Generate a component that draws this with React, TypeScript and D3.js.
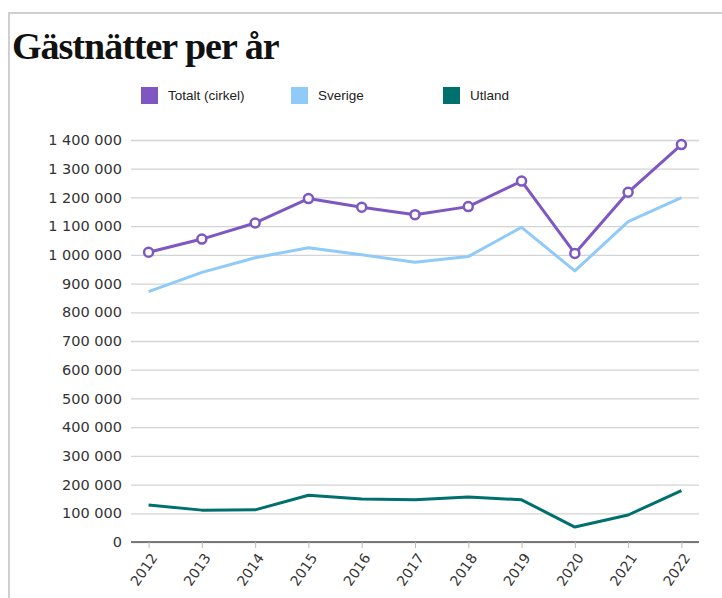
import React, { useEffect, useRef } from 'react'
import * as d3 from 'd3'

const years = ['2012', '2013', '2014', '2015', '2016', '2017', '2018', '2019', '2020', '2021', '2022']
const totalt = [1009000, 1055000, 1111000, 1196000, 1166000, 1140000, 1168000, 1257000, 1005000, 1218000, 1384000]
const sverige = [872000, 939000, 990000, 1025000, 1000000, 974000, 994000, 1096000, 944000, 1116000, 1199000]
const utland = [129000, 111000, 112000, 163000, 150000, 147000, 157000, 147000, 52000, 94000, 179000]
const yTicks = [0, 100000, 200000, 300000, 400000, 500000, 600000, 700000, 800000, 900000, 1000000, 1100000, 1200000, 1300000, 1400000]
const legendItems = [
  { label: 'Totalt (cirkel)', color: '#7e57c2' },
  { label: 'Sverige', color: '#90caf9' },
  { label: 'Utland', color: '#00706e' },
]

const W = 722
const H = 598

const App = () => {
  const ref = useRef<SVGSVGElement>(null)

  useEffect(() => {
    const svg = d3.select(ref.current)
    svg.selectAll('*').remove()

    const margin = { top: 140, left: 131, right: 23, bottom: 56 }
    const x = d3.scalePoint().domain(years).range([margin.left, W - margin.right]).padding(0.33)
    const y = d3.scaleLinear().domain([0, 1400000]).range([H - margin.bottom, margin.top])

    // frame
    svg.append('path').attr('d', `M9,${H} V13 H${W}`).attr('fill', 'none').attr('stroke', '#cfcfcf').attr('stroke-width', 2)

    svg.append('text')
      .attr('x', 12).attr('y', 59)
      .attr('font-family', '"Liberation Serif", serif')
      .attr('font-weight', 'bold')
      .attr('font-size', 38)
      .attr('letter-spacing', -1)
      .attr('fill', '#111')
      .text('Gästnätter per år')

    // legend
    const legX = [141, 291, 443]
    legendItems.forEach((d, i) => {
      svg.append('rect').attr('x', legX[i]).attr('y', 87).attr('width', 17).attr('height', 17).attr('fill', d.color)
      svg.append('text').attr('x', legX[i] + 27).attr('y', 100)
        .attr('font-family', '"Liberation Sans", Arial, sans-serif').attr('font-size', 13.5).attr('fill', '#222')
        .text(d.label)
    })

    const fmt = (v: number) => d3.format(',')(v).replace(/,/g, ' ')

    // grid
    const yAxis = svg.append('g').attr('transform', `translate(${margin.left},0)`)
      .call(d3.axisLeft(y).tickValues(yTicks).tickFormat((d) => fmt(+d)).tickSize(-(W - margin.right - margin.left)).tickPadding(9))
    yAxis.select('.domain').remove()
    yAxis.selectAll('.tick line').attr('stroke', '#d4d4d4').attr('stroke-width', 1.3)
    yAxis.selectAll('.tick text').attr('font-family', '"DejaVu Sans", Verdana, sans-serif').attr('font-size', 14.5).attr('fill', '#333')

    const xAxis = svg.append('g').attr('transform', `translate(0,${y(0)})`)
      .call(d3.axisBottom(x).tickSize(6).tickSizeOuter(0))
    xAxis.select('.domain').attr('d', `M${margin.left},0H${W - margin.right}`).attr('stroke', '#555').attr('stroke-width', 1.3)
    xAxis.selectAll('.tick line').attr('stroke', '#bbb')
    xAxis.selectAll('.tick text')
      .attr('font-family', '"DejaVu Sans", Verdana, sans-serif').attr('font-size', 14).attr('fill', '#333')
      .attr('text-anchor', 'end')
      .attr('transform', 'translate(5,13) rotate(-55)')
      .attr('dy', '0.35em').attr('y', 0)

    const line = d3.line<number>().x((_, i) => x(years[i]) as number).y((d) => y(d))
    const series = [
      { data: utland, color: '#00706e' },
      { data: sverige, color: '#90caf9' },
      { data: totalt, color: '#7e57c2' },
    ]
    series.forEach((s) => {
      svg.append('path').datum(s.data).attr('d', line).attr('fill', 'none')
        .attr('stroke', s.color).attr('stroke-width', 3).attr('stroke-linejoin', 'round')
    })

    svg.selectAll('.dot').data(totalt).enter().append('circle')
      .attr('cx', (_, i) => x(years[i]) as number).attr('cy', (d) => y(d)).attr('r', 4.5)
      .attr('fill', '#fff').attr('stroke', '#7e57c2').attr('stroke-width', 2.5)
  }, [])

  return <svg ref={ref} width={W} height={H} style={{ position: 'absolute', left: 0, top: 0 }} />
}

export default App
